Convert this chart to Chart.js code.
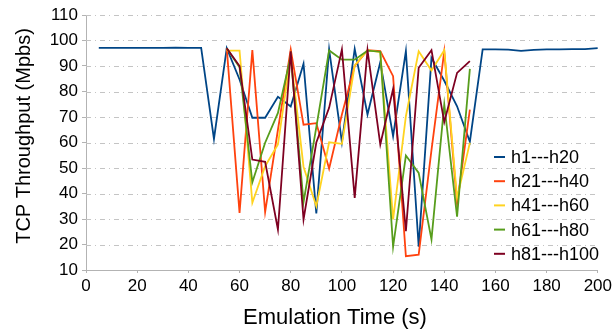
<!DOCTYPE html>
<html lang="en">
<head>
  <meta charset="UTF-8" />
  <title>TCP Throughput</title>
  <style>
    html, body {
      margin: 0;
      padding: 0;
      background: white;
    }
  </style>
</head>
<body>

<canvas id="chart" width="615" height="333"></canvas>

<script src="https://cdn.jsdelivr.net/npm/chart.js"></script>

<script>
  // time stamps (s)
  const timesAll = [5, 10, 15, 20, 25, 30, 35, 40, 45, 50, 55, 60, 65, 70, 75, 80, 85, 90, 95, 100,
    105, 110, 115, 120, 125, 130, 135, 140, 145, 150, 155, 160, 165, 170, 175, 180, 185, 190, 195, 200];
  const timesMid = [55, 60, 65, 70, 75, 80, 85, 90, 95, 100, 105, 110, 115, 120, 125, 130, 135, 140, 145, 150];

  // throughput (Mbps)
  const h1_20 = [97.1, 97.1, 97.1, 97.1, 97.1, 97.1, 97.2, 97.1, 97.1, 61.4, 97, 84.7, 69.7, 69.7, 77.9, 74.1, 90.9, 32.2, 96.5, 60.1,
    96.7, 71, 91.5, 62.5, 95.8, 19.1, 93.2, 84.2, 74.2, 60.3, 96.5, 96.5, 96.4, 95.9, 96.3, 96.5, 96.5, 96.6, 96.6, 97];
  const h21_40 = [97, 32.4, 96.2, 32.7, 65, 96.5, 67, 67.6, 49.7, 71, 90, 96.2, 95.8, 86, 15.4, 16, 57, 95.8, 36, 72.9];
  const h41_60 = [96, 96, 36.4, 50.7, 59.2, 93.8, 50.5, 35, 60.1, 59.5, 90.2, 96.2, 95.4, 29.8, 70.3, 95.8, 88.2, 96.2, 38.3, 59.9];
  const h61_80 = [97, 89.5, 44.4, 59.9, 71.6, 93.8, 36.6, 66, 96.1, 92.5, 92.5, 96, 95.6, 19.1, 54.9, 48.1, 22, 74.9, 30.9, 88.9];
  const h81_100 = [97, 90, 53.3, 52.4, 25.9, 95.8, 29.8, 60, 73.6, 96.5, 38.3, 96.2, 59.2, 81, 25.2, 89.3, 96.2, 68, 87.3, 91.9];

  const seriesNames = ['h1---h20', 'h21---h40', 'h41---h60', 'h61---h80', 'h81---h100'];
  const seriesColors = ['#004586', '#ff420e', '#ffd320', '#579d1c', '#7e0021'];

  const yTicks = [10, 20, 30, 40, 50, 60, 70, 80, 90, 100, 110];
  const xTicks = [0, 20, 40, 60, 80, 100, 120, 140, 160, 180, 200];

  const xTitle = 'Emulation Time (s)';
  const yTitle = 'TCP Throughput (Mpbs)';

  function pairs(xs, ys) {
    return ys.map((y, i) => ({ x: xs[i], y: y }));
  }

  const seriesData = [
    pairs(timesAll, h1_20),
    pairs(timesMid, h21_40),
    pairs(timesMid, h41_60),
    pairs(timesMid, h61_80),
    pairs(timesMid, h81_100)
  ];

  const fontFamily = '"Liberation Sans", Arial, sans-serif';

  // dash-dot horizontal grid lines at the y ticks
  const dashGrid = {
    id: 'dashGrid',
    beforeDatasetsDraw(chart) {
      const { ctx, chartArea, scales } = chart;
      ctx.save();
      ctx.strokeStyle = '#c4c4c4';
      ctx.lineWidth = 1;
      ctx.setLineDash([5, 4, 1, 4]);
      yTicks.slice(1).forEach(v => {
        const y = Math.round(scales.y.getPixelForValue(v)) + 0.5;
        ctx.beginPath();
        ctx.moveTo(chartArea.left, y);
        ctx.lineTo(chartArea.right, y);
        ctx.stroke();
      });
      ctx.restore();
    }
  };

  // axis titles + legend drawn over the plot area, on the right
  const decorations = {
    id: 'decorations',
    afterDraw(chart) {
      const ctx = chart.ctx;
      ctx.save();
      ctx.fillStyle = '#000';
      ctx.textAlign = 'center';
      ctx.textBaseline = 'middle';

      ctx.font = '22px ' + fontFamily;
      ctx.fillText(xTitle, 335, 318);

      ctx.save();
      ctx.translate(24, 136);
      ctx.rotate(-Math.PI / 2);
      ctx.font = '20px ' + fontFamily;
      ctx.fillText(yTitle, 0, 0);
      ctx.restore();

      ctx.textAlign = 'left';
      ctx.font = '18px ' + fontFamily;
      seriesNames.forEach((name, i) => {
        const y = 157 + i * 24.2;
        ctx.strokeStyle = seriesColors[i];
        ctx.lineWidth = 2;
        ctx.beginPath();
        ctx.moveTo(494, y);
        ctx.lineTo(505, y);
        ctx.stroke();
        ctx.fillText(name, 511, y + 1);
      });
      ctx.restore();
    }
  };

  const tickFont = { family: fontFamily, size: 17 };

  new Chart(document.getElementById('chart'), {
    type: 'line',
    data: {
      datasets: seriesData.map((d, i) => ({
        label: seriesNames[i],
        data: d,
        borderColor: seriesColors[i],
        backgroundColor: seriesColors[i],
        borderWidth: 1.8,
        pointRadius: 0,
        tension: 0,
        fill: false,
        order: 4 - i
      }))
    },
    options: {
      responsive: false,
      animation: false,
      layout: { padding: { top: 15, right: 16, bottom: 0, left: 0 } },
      plugins: {
        legend: { display: false },
        tooltip: { enabled: false }
      },
      scales: {
        x: {
          type: 'linear',
          min: 0,
          max: 200,
          afterBuildTicks: axis => { axis.ticks = xTicks.map(v => ({ value: v })); },
          afterFit: axis => { axis.height = 63; },
          ticks: { color: '#000', font: tickFont, padding: 3, maxRotation: 0 },
          grid: { drawOnChartArea: false, color: '#b3b3b3', tickLength: 3 },
          border: { color: '#b3b3b3' }
        },
        y: {
          min: 10,
          max: 110,
          afterBuildTicks: axis => { axis.ticks = yTicks.map(v => ({ value: v })); },
          afterFit: axis => { axis.width = 86; },
          ticks: { color: '#000', font: tickFont, padding: 4 },
          grid: { drawOnChartArea: false, color: '#b3b3b3', tickLength: 4 },
          border: { color: '#b3b3b3' }
        }
      }
    },
    plugins: [dashGrid, decorations]
  });
</script>

</body>
</html>
